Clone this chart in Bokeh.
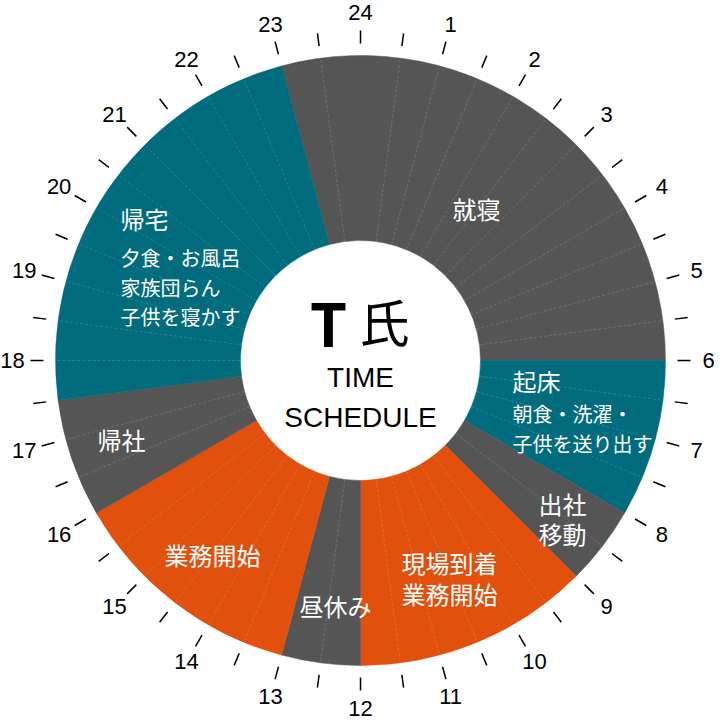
import numpy as np
from bokeh.plotting import figure
from bokeh.models import ColumnDataSource
from bokeh.core.properties import value
from bokeh.embed import file_html
from bokeh.resources import INLINE

# schedule blocks, in clock hours (end may pass 24)
seg_start = [23, 6, 8, 9, 12, 13, 16, 17.5]
seg_end = [30, 8, 9, 12, 13, 16, 17.5, 23]
seg_kind = ["sleep", "home", "move", "work", "rest", "work", "move", "home"]

kind_colors = {"sleep": "#555555", "move": "#555555", "rest": "#555555",
               "home": "#016c7e", "work": "#e1500c"}

hour_labels = [str(h) for h in range(1, 25)]

# label text for the blocks
titles = ["就寝", "起床", "出社", "移動", "現場到着", "業務開始", "昼休み", "業務開始", "帰社", "帰宅"]
subtitles = ["朝食・洗濯・", "子供を送り出す", "夕食・お風呂", "家族団らん", "子供を寝かす"]

# layout (pixel offsets from the centre)
title_x = [116, 152, 202, 202, 89, 89, -25, -148, -239, -240]
title_y = [152, -20, -143, -173, -202, -233, -245, -194, -79, 142]
title_align = ["center", "left", "center", "center", "center", "center", "center", "center", "center", "left"]
sub_x = [152, 152, -240, -240, -240]
sub_y = [-53, -83, 103, 73, 44]

R_IN, R_OUT = 120, 305
TICK_IN, TICK_OUT, LABEL_R = 317, 330, 348


def clock_to_rad(h):
    # 0h at the top, clockwise
    return np.deg2rad(90 - np.asarray(h, dtype=float) * 15)


p = figure(width=720, height=720, x_range=(-360, 360), y_range=(-360, 360),
           toolbar_location=None, output_backend="svg", min_border=0)
p.axis.visible = False
p.grid.visible = False
p.outline_line_color = None
p.background_fill_color = "white"

src = ColumnDataSource(dict(
    start=clock_to_rad(seg_end),
    end=clock_to_rad(seg_start),
    color=[kind_colors[k] for k in seg_kind],
))
p.annular_wedge(x=0, y=0, inner_radius=R_IN, outer_radius=R_OUT,
                start_angle="start", end_angle="end", direction="anticlock",
                fill_color="color", line_color="color", line_width=0.5, source=src)

# faint half-hour dividers inside the blocks
bounds = set([s % 24 for s in seg_start] + [e % 24 for e in seg_end] + [0])
halfs = [h / 2 for h in range(48) if (h / 2) not in bounds]
a = clock_to_rad(halfs)
p.segment(x0=R_IN * np.cos(a), y0=R_IN * np.sin(a), x1=R_OUT * np.cos(a), y1=R_OUT * np.sin(a),
          line_color="white", line_alpha=0.17, line_width=0.9, line_dash="3 2")

# ticks every half hour
ta = clock_to_rad([h / 2 for h in range(48)])
p.segment(x0=TICK_IN * np.cos(ta), y0=TICK_IN * np.sin(ta),
          x1=TICK_OUT * np.cos(ta), y1=TICK_OUT * np.sin(ta),
          line_color="black", line_width=1.5)

la = clock_to_rad(range(1, 25))
p.text(x=LABEL_R * np.cos(la), y=LABEL_R * np.sin(la), text=hour_labels,
       text_align="center", text_baseline="middle", text_font=value("Liberation Sans"),
       text_font_size="22px", text_color="black")

# block labels
p.text(x=title_x, y=title_y, text=titles, text_align=title_align, text_baseline="middle",
       text_font=value("Noto Sans CJK JP"), text_font_size="24px", text_color="white")
p.text(x=sub_x, y=sub_y, text=subtitles, text_align="left", text_baseline="middle",
       text_font=value("Noto Sans CJK JP"), text_font_size="20px", text_color="white")

# centre title
p.text(x=[-32], y=[40], text=["T"], text_align="center", text_baseline="middle",
       text_font=value("Noto Sans CJK JP"), text_font_size="60px", text_font_style="bold",
       text_color="black")
p.text(x=[24], y=[41], text=["氏"], text_align="center", text_baseline="middle",
       text_font=value("Noto Sans CJK JP"), text_font_size="50px", text_color="black")
p.text(x=[0, 0], y=[-17, -57], text=["TIME", "SCHEDULE"], text_align="center",
       text_baseline="middle", text_font=value("Liberation Sans"), text_font_size="28px",
       text_color="black")

open("out.html", "w").write(file_html(p, INLINE))
